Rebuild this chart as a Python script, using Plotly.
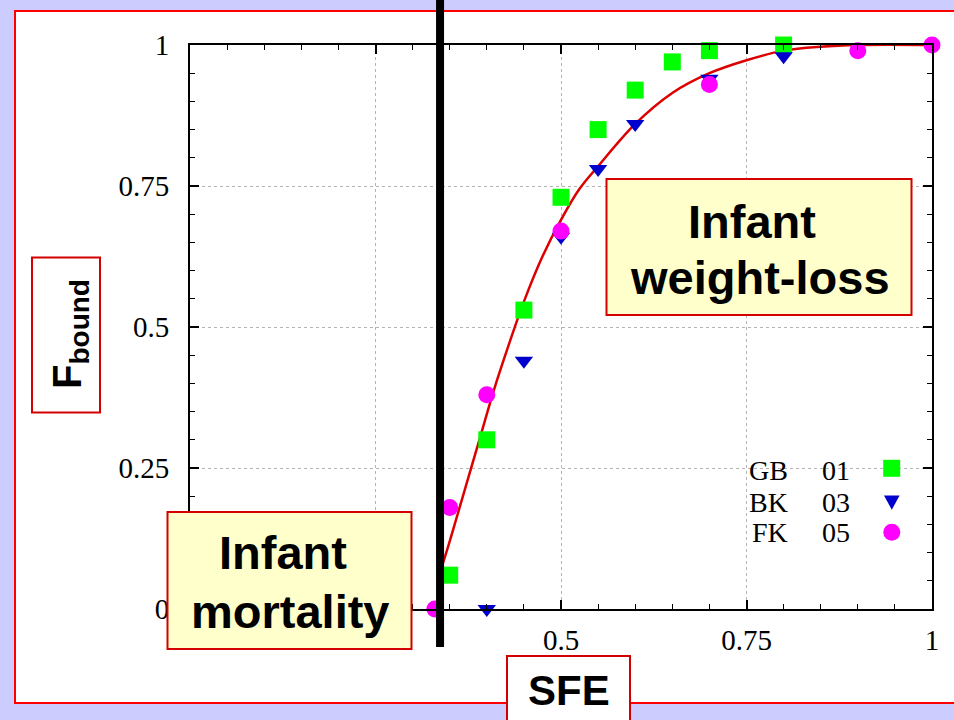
import plotly.graph_objects as go

# ---------------- data ----------------
gb_x = [0.35, 0.40, 0.45, 0.50, 0.55, 0.60, 0.65, 0.70, 0.80]
gb_y = [0.06, 0.30, 0.53, 0.73, 0.85, 0.92, 0.97, 0.99, 1.00]

bk_x = [0.40, 0.45, 0.50, 0.55, 0.60, 0.70, 0.80]
bk_y = [0.00, 0.44, 0.66, 0.78, 0.86, 0.94, 0.98]

fk_x = [0.33, 0.35, 0.40, 0.50, 0.70, 0.90, 1.00]
fk_y = [0.00, 0.18, 0.38, 0.67, 0.93, 0.99, 1.00]

fit_x = [0.337, 0.35, 0.37, 0.39, 0.41, 0.43, 0.45, 0.475, 0.50, 0.525, 0.55,
         0.60, 0.65, 0.70, 0.75, 0.80, 0.85, 0.90, 1.00]
fit_y = [0.065, 0.12, 0.21, 0.30, 0.39, 0.47, 0.545, 0.625, 0.69, 0.745, 0.785,
         0.86, 0.915, 0.95, 0.973, 0.99, 0.997, 1.0, 1.0]

tick_vals = [0, 0.25, 0.5, 0.75, 1]
tick_text = ["0", "0.25", "0.5", "0.75", "1"]

sfe_threshold = 0.337

legend_names = ["GB", "BK", "FK"]
legend_years = ["01", "03", "05"]

# ---------------- geometry helpers ----------------
W, H = 954, 720
L, R, T, B = 190, 22, 45, 111
PW = W - L - R
PH = H - T - B
BOT = H - B


def fx(px):
    return (px - L) / PW


def fy(py):
    return (BOT - py) / PH


GREEN = "#00ff00"
BLUE = "#0000cc"
MAGENTA = "#ff00ff"
BOXRED = "#d40000"

fig = go.Figure()

fig.add_trace(go.Scatter(x=fit_x, y=fit_y, mode="lines",
                         line=dict(color="#dd0000", width=2.5, shape="spline"),
                         showlegend=False, hoverinfo="skip"))
fig.add_trace(go.Scatter(x=gb_x, y=gb_y, mode="markers", name="GB 01",
                         marker=dict(symbol="square", size=17, color=GREEN, line=dict(width=0)),
                         cliponaxis=False, showlegend=False))
fig.add_trace(go.Scatter(x=bk_x, y=bk_y, mode="markers", name="BK 03",
                         marker=dict(symbol="triangle-down", size=16, color=BLUE, line=dict(width=0)),
                         cliponaxis=False, showlegend=False))
fig.add_trace(go.Scatter(x=fk_x, y=fk_y, mode="markers", name="FK 05",
                         marker=dict(symbol="circle", size=17, color=MAGENTA, line=dict(width=0)),
                         cliponaxis=False, showlegend=False))

axis_common = dict(
    range=[0, 1], tickvals=tick_vals, ticktext=tick_text,
    showline=True, linecolor="black", linewidth=2, mirror="allticks",
    ticks="inside", ticklen=9, tickwidth=1.5, tickcolor="black",
    showgrid=True, gridcolor="#b4b4b4", griddash="dot", gridwidth=1,
    zeroline=False,
    tickfont=dict(family="Liberation Serif", size=29, color="black"),
    minor=dict(dtick=0.05, ticks="inside", ticklen=5, tickwidth=1.2,
               tickcolor="black", showgrid=False),
    fixedrange=True,
)

fig.update_xaxes(**axis_common, ticklabelstandoff=4)
fig.update_yaxes(**axis_common, ticklabelstandoff=13)

shapes = []
# white panel with red border
shapes.append(dict(type="rect", xref="paper", yref="paper", layer="below",
                   x0=fx(15), x1=fx(980), y0=fy(703), y1=fy(11),
                   fillcolor="white", line=dict(color="#ff0000", width=2)))
# opaque key area hiding the grid
shapes.append(dict(type="rect", xref="paper", yref="paper", layer="between",
                   x0=fx(552), x1=1, y0=fy(550), y1=fy(453),
                   fillcolor="white", line=dict(width=0)))
# threshold line
shapes.append(dict(type="line", xref="paper", yref="paper", layer="above",
                   x0=sfe_threshold, x1=sfe_threshold, y0=fy(647), y1=fy(-5),
                   line=dict(color="black", width=8)))
# label boxes
shapes.append(dict(type="rect", xref="paper", yref="paper", layer="above",
                   x0=fx(32), x1=fx(100), y0=fy(412.5), y1=fy(257.5),
                   fillcolor="white", line=dict(color=BOXRED, width=2)))
shapes.append(dict(type="rect", xref="paper", yref="paper", layer="above",
                   x0=fx(507), x1=fx(630), y0=fy(740), y1=fy(656),
                   fillcolor="white", line=dict(color=BOXRED, width=2)))
shapes.append(dict(type="rect", xref="paper", yref="paper", layer="above",
                   x0=fx(606.5), x1=fx(911.5), y0=fy(315), y1=fy(179),
                   fillcolor="#ffffcc", line=dict(color=BOXRED, width=2)))
shapes.append(dict(type="rect", xref="paper", yref="paper", layer="above",
                   x0=fx(167.5), x1=fx(411.5), y0=fy(649), y1=fy(512),
                   fillcolor="#ffffcc", line=dict(color=BOXRED, width=2)))
# legend keys
shapes.append(dict(type="rect", xref="paper", yref="paper", layer="above",
                   x0=fx(883.2), x1=fx(900.2), y0=fy(476.8), y1=fy(459.8),
                   fillcolor=GREEN, line=dict(width=0)))
shapes.append(dict(type="path", xref="paper", yref="paper", layer="above",
                   path="M %f,%f L %f,%f L %f,%f Z" % (fx(884.0), fy(495.5), fx(899.6), fy(495.5),
                                                      fx(891.8), fy(509.8)),
                   fillcolor=BLUE, line=dict(width=0)))
shapes.append(dict(type="circle", xref="paper", yref="paper", layer="above",
                   x0=fx(883.3), x1=fx(900.3), y0=fy(540.8), y1=fy(523.8),
                   fillcolor=MAGENTA, line=dict(width=0)))

ann = []


def txt(text, px, py, size, family="Liberation Sans", weight="bold", xanchor="center",
        angle=0):
    ann.append(dict(text=text, xref="paper", yref="paper", x=fx(px), y=fy(py),
                    xanchor=xanchor, yanchor="middle", showarrow=False, textangle=angle,
                    font=dict(family=family, size=size, color="black", weight=weight)))


txt("Infant", 752, 221, 47)
txt("weight-loss", 759.5, 277.5, 47)
txt("Infant", 282.5, 552.5, 47)
txt("mortality", 290, 611, 47)
txt("SFE", 568.7, 690.5, 42)
txt("F<sub>bound</sub>", 70, 334, 40, angle=-90)

legend_rows = [470, 502.3, 532.3]
for name, yr, py in zip(legend_names, legend_years, legend_rows):
    txt(name, 790, py, 28, family="Liberation Serif", weight="normal", xanchor="right")
    txt(yr, 820, py, 28, family="Liberation Serif", weight="normal", xanchor="left")

fig.update_layout(
    width=W, height=H,
    margin=dict(l=L, r=R, t=T, b=B, autoexpand=False),
    paper_bgcolor="#ccccff", plot_bgcolor="white",
    shapes=shapes, annotations=ann, showlegend=False,
)

fig.write_html("out.html")
